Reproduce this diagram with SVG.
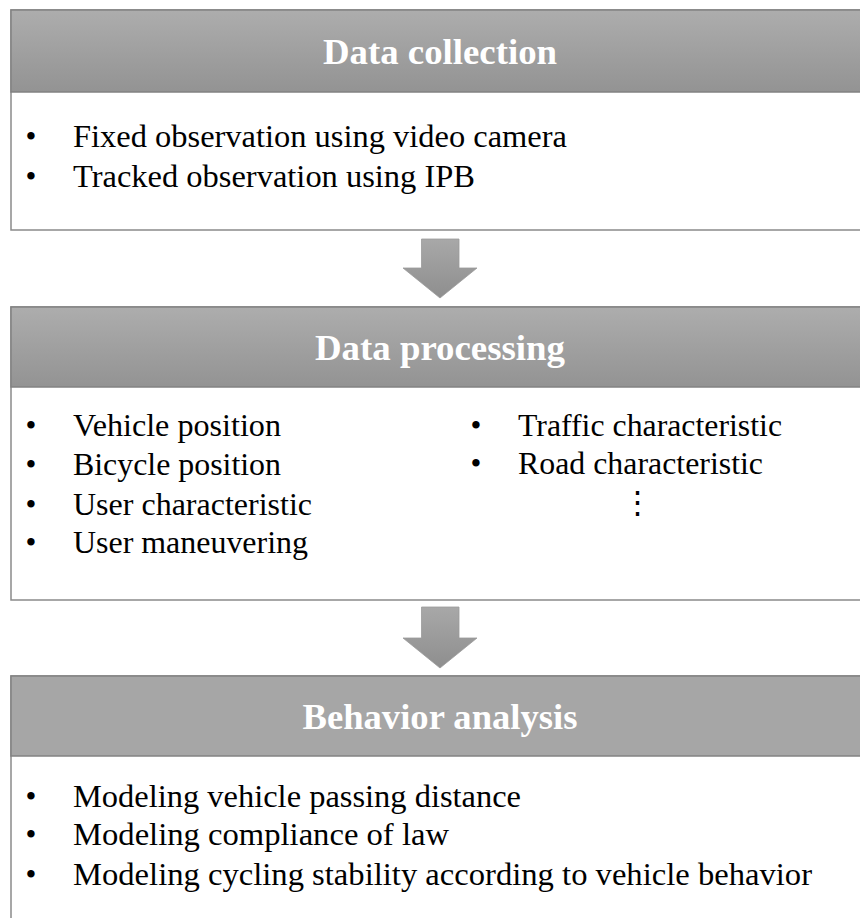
<svg xmlns="http://www.w3.org/2000/svg" width="860" height="918" viewBox="0 0 860 918">
  <defs>
    <linearGradient id="hdrGrad" x1="0" y1="0" x2="0" y2="1">
      <stop offset="0" stop-color="#adadad"/>
      <stop offset="1" stop-color="#939393"/>
    </linearGradient>
    <linearGradient id="arrowGrad" x1="0" y1="0" x2="0" y2="1">
      <stop offset="0" stop-color="#a8a8a8"/>
      <stop offset="1" stop-color="#8e8e8e"/>
    </linearGradient>
  </defs>
  <style>
    .body { fill: #ffffff; stroke: #8a8a8a; stroke-width: 1.5; }
    .hdr { fill: url(#hdrGrad); stroke: #828282; stroke-width: 1.5; }
    .hdr-flat { fill: #a6a6a6; stroke: #828282; stroke-width: 1.5; }
    .title { font-weight: bold; font-size: 36px; fill: #ffffff; text-anchor: middle; }
    .item { font-size: 31px; fill: #000000; }
    .bullet { font-size: 31px; fill: #000000; text-anchor: middle; }
    .arrow { fill: url(#arrowGrad); stroke: #9a9a9a; stroke-width: 0.8; }
  </style>
  <rect width="860" height="918" fill="#ffffff"/>

  <!-- Stage 1 -->
  <g id="data-collection" font-family="Liberation Serif, serif">
    <rect class="body" x="11" y="10" width="870" height="220"/>
    <rect class="hdr" x="11" y="10" width="870" height="82"/>
    <text class="title" x="440" y="64" textLength="234" lengthAdjust="spacingAndGlyphs">Data collection</text>
    <text class="bullet" x="31" y="147">•</text>
    <text class="item" x="73" y="147" textLength="494" lengthAdjust="spacingAndGlyphs">Fixed observation using video camera</text>
    <text class="bullet" x="31" y="187">•</text>
    <text class="item" x="73" y="187" textLength="402" lengthAdjust="spacingAndGlyphs">Tracked observation using IPB</text>
  </g>

  <!-- Stage 2 -->
  <g id="data-processing" font-family="Liberation Serif, serif">
    <rect class="body" x="11" y="307" width="870" height="293"/>
    <rect class="hdr" x="11" y="307" width="870" height="80"/>
    <text class="title" x="440" y="360" textLength="250" lengthAdjust="spacingAndGlyphs">Data processing</text>
    <text class="bullet" x="31" y="436">•</text>
    <text class="item" x="73" y="436" textLength="208" lengthAdjust="spacingAndGlyphs">Vehicle position</text>
    <text class="bullet" x="31" y="475">•</text>
    <text class="item" x="73" y="475" textLength="208" lengthAdjust="spacingAndGlyphs">Bicycle position</text>
    <text class="bullet" x="31" y="515">•</text>
    <text class="item" x="73" y="515" textLength="239" lengthAdjust="spacingAndGlyphs">User characteristic</text>
    <text class="bullet" x="31" y="553">•</text>
    <text class="item" x="73" y="553" textLength="235" lengthAdjust="spacingAndGlyphs">User maneuvering</text>
    <text class="bullet" x="476" y="436">•</text>
    <text class="item" x="518" y="436" textLength="264" lengthAdjust="spacingAndGlyphs">Traffic characteristic</text>
    <text class="bullet" x="476" y="474">•</text>
    <text class="item" x="518" y="474" textLength="245" lengthAdjust="spacingAndGlyphs">Road characteristic</text>
    <text class="bullet" x="637" y="513">⋮</text>
  </g>

  <!-- Stage 3 -->
  <g id="behavior-analysis" font-family="Liberation Serif, serif">
    <rect class="body" x="11" y="676" width="870" height="260"/>
    <rect class="hdr-flat" x="11" y="676" width="870" height="80"/>
    <text class="title" x="440" y="729" textLength="275" lengthAdjust="spacingAndGlyphs">Behavior analysis</text>
    <text class="bullet" x="31" y="807">•</text>
    <text class="item" x="73" y="807" textLength="448" lengthAdjust="spacingAndGlyphs">Modeling vehicle passing distance</text>
    <text class="bullet" x="31" y="845">•</text>
    <text class="item" x="73" y="845" textLength="376" lengthAdjust="spacingAndGlyphs">Modeling compliance of law</text>
    <text class="bullet" x="31" y="885">•</text>
    <text class="item" x="73" y="885" textLength="739" lengthAdjust="spacingAndGlyphs">Modeling cycling stability according to vehicle behavior</text>
  </g>

  <!-- Flow arrows between stages -->
  <g id="connectors">
    <path class="arrow" d="M421.5,239 H459 V268 H477 L440,298 L403,268 H421.5 Z"/>
    <path class="arrow" d="M421.5,607 H459 V638 H477 L440,668 L403,638 H421.5 Z"/>
  </g>
</svg>
